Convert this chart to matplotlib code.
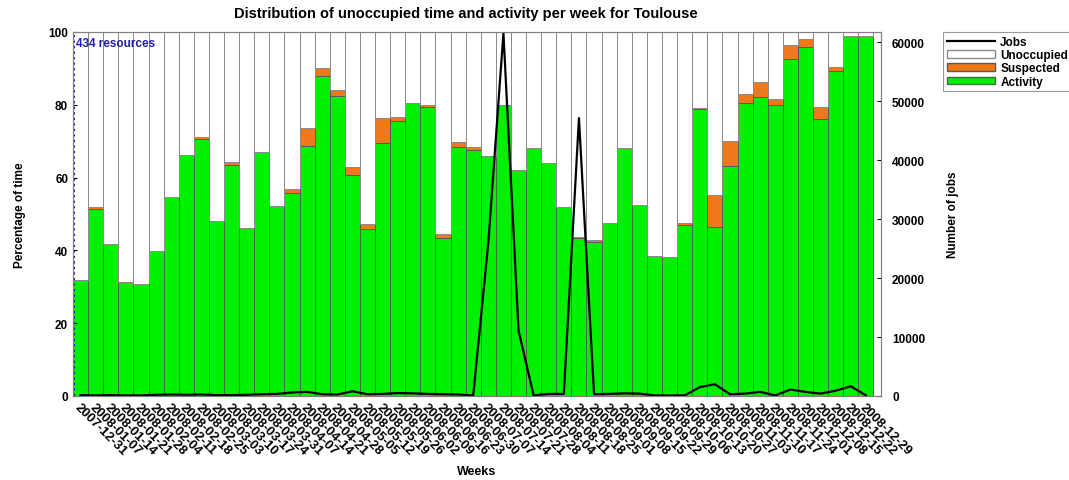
import matplotlib
matplotlib.use('Agg')
import matplotlib.pyplot as plt
from matplotlib.lines import Line2D
from matplotlib.patches import Patch
import numpy as np

plt.rcParams['font.family'] = ['Liberation Sans', 'DejaVu Sans']
plt.rcParams['font.weight'] = 'bold'

# semanas
weeks = ['2007-12-31', '2008-01-07', '2008-01-14', '2008-01-21', '2008-01-28',
         '2008-02-04', '2008-02-11', '2008-02-18', '2008-02-25', '2008-03-03',
         '2008-03-10', '2008-03-17', '2008-03-24', '2008-03-31', '2008-04-07',
         '2008-04-14', '2008-04-21', '2008-04-28', '2008-05-05', '2008-05-12',
         '2008-05-19', '2008-05-26', '2008-06-02', '2008-06-09', '2008-06-16',
         '2008-06-23', '2008-06-30', '2008-07-07', '2008-07-14', '2008-07-21',
         '2008-07-28', '2008-08-04', '2008-08-11', '2008-08-18', '2008-08-25',
         '2008-09-01', '2008-09-08', '2008-09-15', '2008-09-22', '2008-09-29',
         '2008-10-06', '2008-10-13', '2008-10-20', '2008-10-27', '2008-11-03',
         '2008-11-10', '2008-11-17', '2008-11-24', '2008-12-01', '2008-12-08',
         '2008-12-15', '2008-12-22', '2008-12-29']

# porcentaje de actividad
activity = [32, 51.5, 41.8, 31.2, 30.7, 39.7, 54.8, 66.1, 70.6, 48.2,
            63.5, 46.2, 67.1, 52.2, 55.8, 68.6, 88, 82.3, 60.7, 45.9,
            69.5, 75.6, 80.5, 79.4, 43.3, 68.4, 67.6, 66.0, 80.0, 62.0,
            68.0, 64.0, 52.0, 43.3, 42.4, 47.5, 68.1, 52.5, 38.5, 38.3,
            47.1, 78.8, 46.3, 63.3, 80.4, 82.2, 80.0, 92.6, 96.0, 76.1,
            89.4, 99.0, 99.0]

# porcentaje sospechoso
suspected = [0, 0.3, 0, 0, 0, 0, 0, 0.2, 0.5, 0,
             0.7, 0, 0, 0, 1.0, 4.9, 2.0, 1.8, 2.1, 1.4,
             6.8, 1.1, 0, 0.5, 1.3, 1.5, 0.9, 0, 0, 0,
             0, 0, 0, 0.4, 0.5, 0, 0, 0, 0, 0,
             0.3, 0.3, 9.0, 6.8, 2.6, 4.2, 1.6, 3.9, 2.1, 3.4,
             0.9, 0, 0]

# numero de trabajos
jobs = [150, 100, 150, 100, 100, 200, 250, 200, 250, 150,
        150, 200, 300, 350, 600, 700, 300, 250, 800, 300,
        350, 500, 450, 350, 300, 250, 100, 26000, 61500, 11100,
        100, 350, 350, 47100, 300, 350, 450, 400, 100, 80,
        100, 1500, 2000, 300, 400, 700, 100, 1100, 700, 400,
        900, 1650, 100]

x = np.arange(len(weeks))
act = np.array(activity)
sus = np.array(suspected)
unocc = 100 - act - sus

fig = plt.figure(figsize=(10.69, 4.81), dpi=100)
ax = fig.add_axes([73/1069, 1 - 397/481, (881 - 73)/1069, (397 - 33)/481])

verde = '#00f000'
naranja = '#f07818'
borde = '#4a6a4a'
ax.bar(x, act, width=1, color=verde, edgecolor=borde, linewidth=0.7)
ax.bar(x, sus, width=1, bottom=act, color=naranja, edgecolor='#5a5a5a', linewidth=0.7)
ax.bar(x, unocc, width=1, bottom=act + sus, color='white', edgecolor='#8a8a8a', linewidth=0.7)

ax.set_xlim(-0.5, 53.0)
ax.set_ylim(0, 100)
ax.axvline(-0.45, color='#1010c0', ls=':', lw=1.5)
ax.text(-0.3, 98.5, '434 resources', color='#2020b0', fontsize=8.5,
        fontweight='bold', ha='left', va='top')

ax.set_xticks(x)
ax.set_xticklabels(weeks, rotation=-45, ha='left', va='top',
                   rotation_mode='anchor', fontsize=9.5)
ax.set_yticks([0, 20, 40, 60, 80, 100])
ax.tick_params(axis='y', labelsize=8.5, direction='in', length=3)
ax.tick_params(axis='x', length=0, pad=3)
ax.set_ylabel('Percentage of time', fontsize=8.5, fontweight='bold', labelpad=16)
ax.set_xlabel('Weeks', fontsize=9, fontweight='bold', labelpad=6)
for s in ax.spines.values():
    s.set_color('#808080')

ax2 = ax.twinx()
ax2.plot(x, jobs, color='black', lw=1.6)
ax2.set_ylim(0, 61700)
ax2.set_yticks(range(0, 60001, 10000))
ax2.tick_params(axis='y', labelsize=8.5, direction='in', length=3, pad=8)
ax2.set_ylabel('Number of jobs', fontsize=8.5, fontweight='bold', labelpad=16)
for s in ax2.spines.values():
    s.set_color('#808080')

fig.text(466/1069, 1 - 14/481,
         'Distribution of unoccupied time and activity per week for Toulouse',
         ha='center', va='center', fontsize=10.5, fontweight='bold')

handles = [Line2D([], [], color='black', lw=1.6),
           Patch(facecolor='white', edgecolor='#8a8a8a'),
           Patch(facecolor=naranja, edgecolor='#5a5a5a'),
           Patch(facecolor=verde, edgecolor=borde)]
leg = fig.legend(handles, ['Jobs', 'Unoccupied', 'Suspected', 'Activity'],
                 loc='upper left', bbox_to_anchor=(943/1069, 1 - 33/481),
                 fontsize=8.5, frameon=True, fancybox=False, edgecolor='#808080',
                 handlelength=4.1, handleheight=0.6, labelspacing=0.12,
                 borderpad=0.3, handletextpad=0.45, borderaxespad=0)
leg.get_frame().set_linewidth(0.8)

fig.savefig('out.png', dpi=100)
